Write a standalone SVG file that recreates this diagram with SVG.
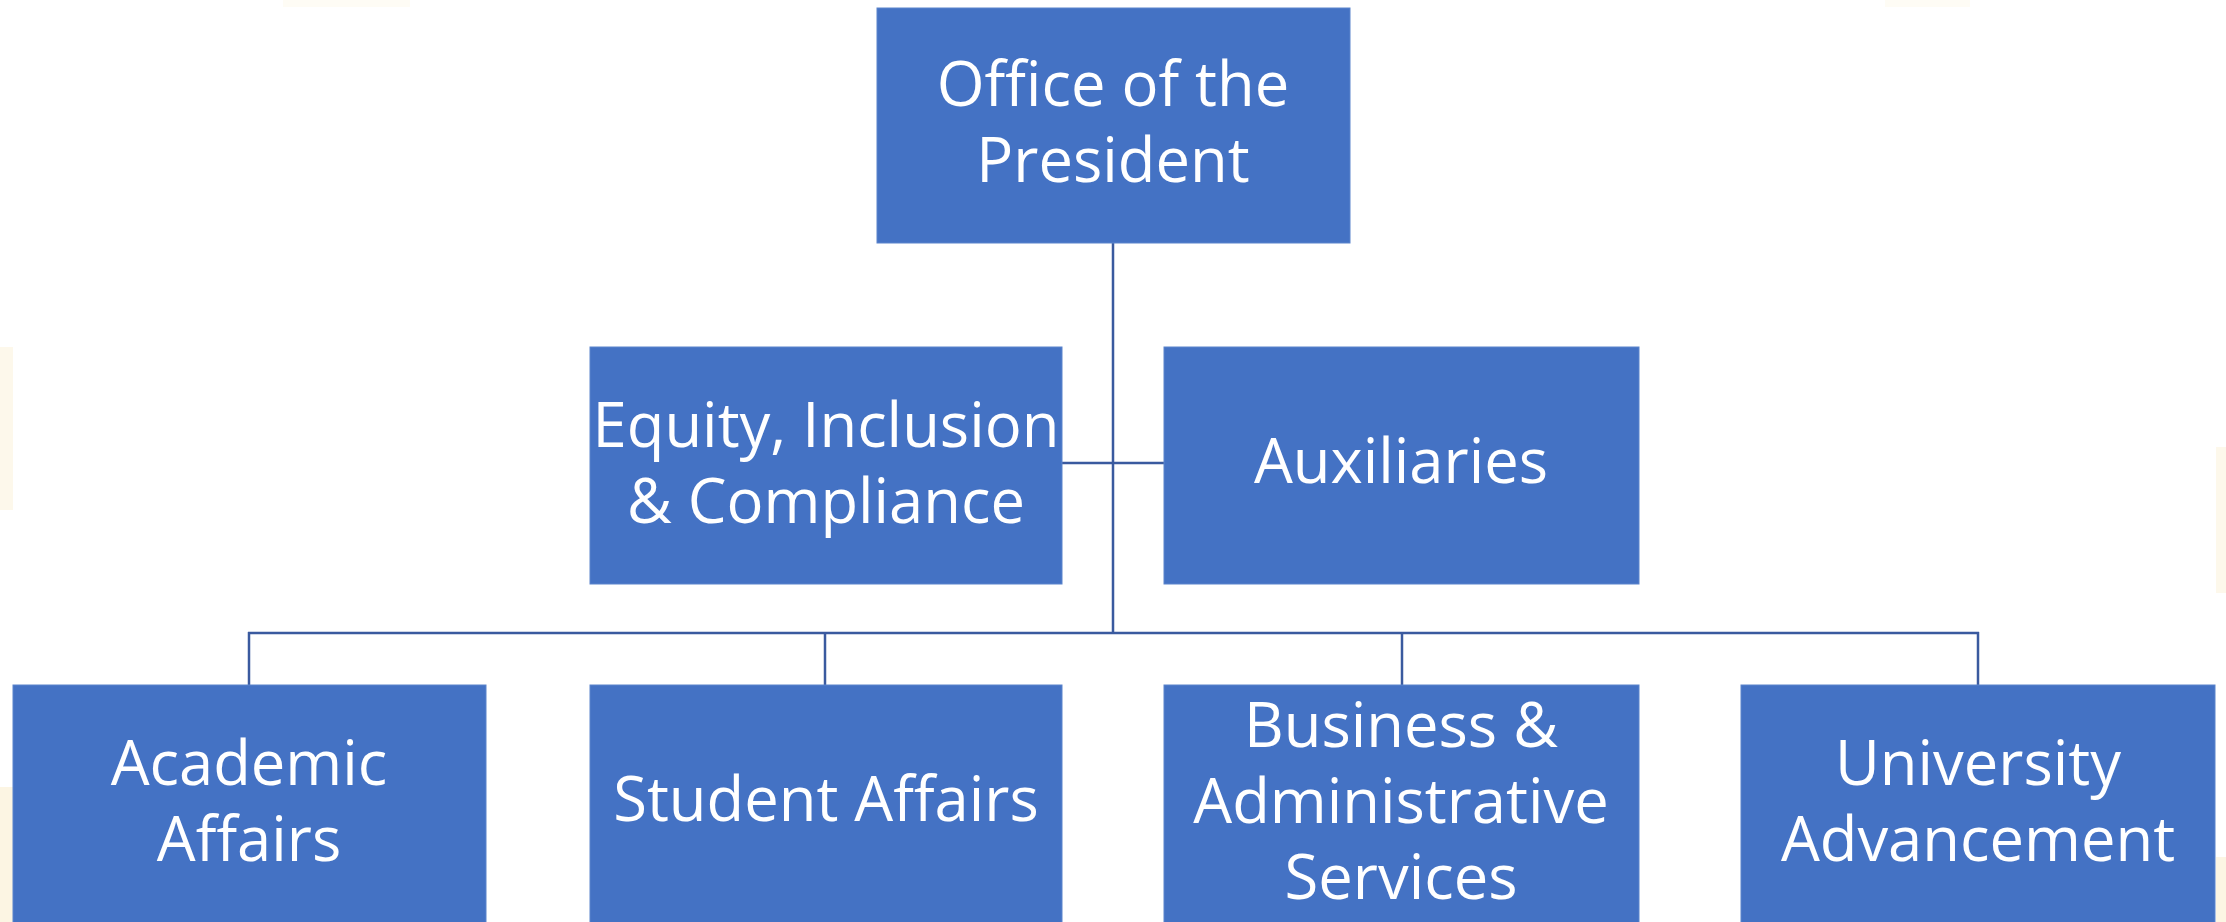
<svg xmlns="http://www.w3.org/2000/svg" width="2226" height="922" viewBox="0 0 2226 922">
<style>
.box{fill:#4472C4;stroke:#5b84cc;stroke-width:1}
.lbl{fill:#ffffff;font-family:"Open Sans","Noto Sans",sans-serif;font-size:61.5px;text-anchor:middle}
.con{stroke:#3a5a9f;stroke-width:2.5;fill:none}
.bg{fill:#fcf5e3}
</style>
<rect width="2226" height="922" fill="#ffffff"/>
<g id="background">
<rect class="bg" x="0" y="347" width="13" height="163" opacity="0.7"/>
<rect class="bg" x="0" y="787" width="13" height="135"/>
<rect class="bg" x="2216" y="447" width="10" height="146" opacity="0.7"/>
<rect class="bg" x="2216" y="857" width="10" height="65"/>
<rect class="bg" x="283" y="0" width="127" height="7" opacity="0.35"/>
<rect class="bg" x="1885" y="0" width="85" height="7" opacity="0.35"/>
</g>
<g id="connectors">
<line class="con" x1="1113" y1="243" x2="1113" y2="633" stroke-width="3"/>
<line class="con" x1="1062" y1="463" x2="1164" y2="463"/>
<line class="con" x1="248" y1="633" x2="1979" y2="633"/>
<line class="con" x1="249" y1="632" x2="249" y2="685"/>
<line class="con" x1="825" y1="632" x2="825" y2="685"/>
<line class="con" x1="1402" y1="632" x2="1402" y2="685"/>
<line class="con" x1="1978" y1="632" x2="1978" y2="685"/>
</g>
<g id="president">
<rect class="box" x="877" y="8" width="473" height="235"/>
<text class="lbl" x="1113" y="106">Office of the</text>
<text class="lbl" x="1113" y="182">President</text>
</g>
<g id="equity">
<rect class="box" x="590" y="347" width="472" height="237"/>
<text class="lbl" x="826" y="447">Equity, Inclusion</text>
<text class="lbl" x="826" y="523">&amp; Compliance</text>
</g>
<g id="auxiliaries">
<rect class="box" x="1164" y="347" width="475" height="237"/>
<text class="lbl" x="1401" y="483">Auxiliaries</text>
</g>
<g id="academic">
<rect class="box" x="13" y="685" width="473" height="250"/>
<text class="lbl" x="249" y="785">Academic</text>
<text class="lbl" x="249" y="861">Affairs</text>
</g>
<g id="student">
<rect class="box" x="590" y="685" width="472" height="250"/>
<text class="lbl" x="826" y="821">Student Affairs</text>
</g>
<g id="business">
<rect class="box" x="1164" y="685" width="475" height="250"/>
<text class="lbl" x="1401" y="747">Business &amp;</text>
<text class="lbl" x="1401" y="823">Administrative</text>
<text class="lbl" x="1401" y="899">Services</text>
</g>
<g id="university">
<rect class="box" x="1741" y="685" width="474" height="250"/>
<text class="lbl" x="1978" y="785">University</text>
<text class="lbl" x="1978" y="861">Advancement</text>
</g>
</svg>
